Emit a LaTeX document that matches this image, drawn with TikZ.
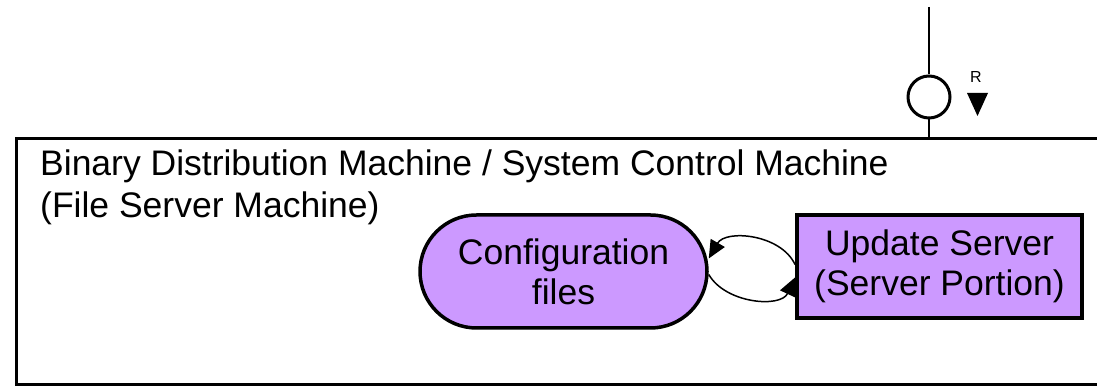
\documentclass[tikz,border=0pt]{standalone}
\usepackage{fontspec}
\setmainfont{Liberation Sans}
\usetikzlibrary{shapes.misc,arrows.meta}
\definecolor{lav}{HTML}{CC99FF}
\begin{document}
\begin{tikzpicture}[x=1pt,y=1pt,
  txt/.style={font=\fontsize{35.5}{40}\selectfont, inner sep=0pt},
  proc/.style={draw, line width=3.5pt, fill=lav, align=center, font=\fontsize{35.5}{40}\selectfont, inner sep=0pt},
  loopar/.style={line width=1.5pt, -{Triangle[length=18pt,width=16pt]}}]
\useasboundingbox (0,0) rectangle (1097,387);
\fill[white] (0,0) rectangle (1097,387);
\node[draw, line width=3pt, minimum width=1082pt, minimum height=246pt, anchor=south west, inner sep=0pt, outer sep=0pt] (frame) at (16,2) {};
\node[txt, anchor=base west] (t1) at (40,211) {Binary Distribution Machine / System Control Machine};
\node[txt, anchor=base west] (t2) at (40,169) {(File Server Machine)};
\node[proc, rounded rectangle, minimum width=287pt, minimum height=113pt] (cfg) at (563.5,115.5) {Configuration\\files};
\node[proc, rectangle, minimum width=285pt, minimum height=103pt, line width=4pt] (us) at (939.5,120.5) {Update Server\\(Server Portion)};
\draw[loopar] ([yshift=2pt]us.west) to[out=115, in=60] ([yshift=13pt]cfg.east);
\draw[loopar] ([yshift=-3pt]cfg.east) to[out=-60, in=-115] ([yshift=-11pt]us.west);
\coordinate (top) at (929,380);
\node[circle, draw, line width=3pt, minimum size=42pt, inner sep=0pt] (ifc) at (929,290) {};
\draw[line width=2pt] (top) -- (ifc.north);
\draw[line width=2pt] (ifc.south) -- (ifc.south |- frame.north);
\node[font=\fontsize{16}{16}\selectfont, inner sep=0pt] (R) at (976,310) {R};
\fill (967,294) -- (988,294) -- (977.5,271) -- cycle;
\end{tikzpicture}
\end{document}
